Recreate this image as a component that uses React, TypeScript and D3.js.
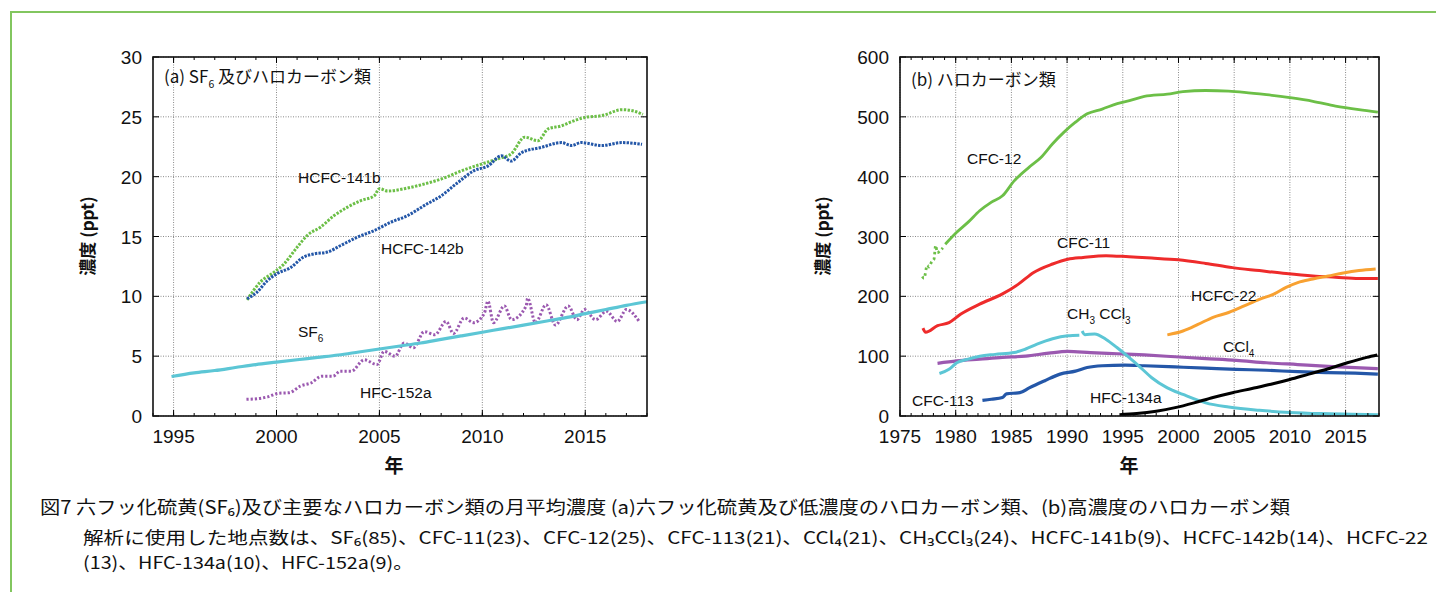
import React from "react";
import * as d3 from "d3";

type Pt = [number, number];

// ---------- Panel (a) data ----------
const xTicksA = [1995, 2000, 2005, 2010, 2015];
const yTicksA = [0, 5, 10, 15, 20, 25, 30];

const sf6A: Pt[] = [
  [1994.9, 3.3], [1996, 3.6], [1997, 3.8], [1998, 4.05], [1999, 4.3], [2000, 4.5],
  [2001, 4.7], [2002, 4.9], [2003, 5.1], [2004, 5.35], [2005, 5.6], [2006, 5.85],
  [2007, 6.1], [2008, 6.4], [2009, 6.7], [2010, 7.0], [2011, 7.3], [2012, 7.6],
  [2013, 7.9], [2014, 8.2], [2015, 8.55], [2016, 8.9], [2017, 9.25], [2018, 9.55],
];

const hcfc141b: Pt[] = [
  [1998.57, 9.7], [1999.22, 11.2], [1999.87, 12.0], [2000.36, 12.7], [2001.0, 14.1],
  [2001.5, 15.1], [2002.15, 15.8], [2002.8, 16.75], [2003.45, 17.45], [2004.1, 18.0],
  [2004.75, 18.4], [2005.0, 19.0], [2005.4, 18.8], [2006.37, 19.05], [2007.2, 19.4],
  [2008.0, 19.8], [2009.0, 20.5], [2009.95, 21.05], [2010.77, 21.5], [2011.4, 21.9],
  [2012.06, 23.3], [2012.7, 23.0], [2013.2, 24.0], [2013.85, 24.25], [2014.34, 24.6],
  [2014.99, 24.95], [2015.8, 25.1], [2016.8, 25.6], [2017.43, 25.45], [2017.8, 25.2],
];

const hcfc142b: Pt[] = [
  [1998.57, 9.8], [1999.06, 10.36], [1999.55, 11.3], [2000.03, 11.9], [2000.68, 12.4],
  [2001.33, 13.3], [2001.82, 13.55], [2002.47, 13.7], [2003.12, 14.25], [2003.94, 14.95],
  [2004.75, 15.5], [2005.56, 16.2], [2006.37, 16.75], [2007.19, 17.6], [2008.0, 18.4],
  [2008.8, 19.5], [2009.6, 20.5], [2010.28, 20.9], [2010.93, 21.75], [2011.4, 21.3],
  [2011.9, 22.0], [2012.88, 22.45], [2013.85, 22.85], [2014.34, 22.6], [2014.8, 22.85],
  [2015.8, 22.6], [2016.78, 22.85], [2017.76, 22.7],
];

const hfc152a: Pt[] = [
  [1998.54, 1.39], [1999.04, 1.44], [1999.57, 1.6], [2000.1, 1.9], [2000.63, 1.95],
  [2001.16, 2.5], [2001.7, 2.78], [2002.2, 3.33], [2002.75, 3.33], [2003.1, 3.75],
  [2003.64, 3.75], [2004.26, 4.7], [2004.88, 4.3], [2005.23, 5.4], [2005.76, 5.0],
  [2006.2, 6.1], [2006.65, 5.7], [2007.18, 7.05], [2007.7, 6.8], [2008.24, 7.9],
  [2008.6, 6.9], [2009.12, 8.2], [2009.57, 7.8], [2010.1, 8.6], [2010.27, 9.6],
  [2010.54, 7.8], [2011.07, 9.2], [2011.42, 8.05], [2012.13, 9.2], [2012.2, 9.85],
  [2012.58, 7.8], [2013.1, 9.3], [2013.55, 7.6], [2014.17, 9.2], [2014.6, 8.05],
  [2014.96, 8.9], [2015.5, 8.05], [2016.03, 8.75], [2016.56, 7.9], [2017.0, 8.9],
  [2017.62, 7.9],
];

// ---------- Panel (b) data ----------
const xTicksB = [1975, 1980, 1985, 1990, 1995, 2000, 2005, 2010, 2015];
const yTicksB = [0, 100, 200, 300, 400, 500, 600];

const cfc12Early: Pt[] = [
  [1977.0, 233], [1977.15, 230], [1977.45, 252], [1977.6, 249], [1977.85, 258],
  [1978.05, 262], [1978.2, 285], [1978.35, 273], [1978.6, 276], [1978.85, 281],
];

const cfc12: Pt[] = [
  [1979.06, 287], [1980.09, 307],
  [1981.12, 324], [1982.15, 343], [1983.18, 357], [1984.2, 368], [1985.25, 393],
  [1986.6, 416], [1987.65, 432], [1988.7, 455], [1989.7, 474], [1990.75, 491],
  [1991.8, 505], [1993.15, 513], [1994.5, 522], [1995.6, 527], [1996.94, 534],
  [1999.0, 538], [2000.4, 542], [2002.44, 544], [2004.5, 543], [2005.9, 541],
  [2007.9, 537], [2010.0, 532], [2012.07, 526], [2014.1, 518], [2016.2, 512], [2017.9, 508],
];

const cfc11: Pt[] = [
  [1977.06, 147], [1977.3, 140], [1978.37, 151], [1979.4, 156], [1980.43, 170],
  [1982.15, 187], [1984.2, 204], [1985.6, 220], [1987.0, 240], [1988.7, 254],
  [1990.06, 262], [1991.44, 265], [1993.5, 268], [1995.56, 266], [1997.6, 264],
  [2000.0, 261], [2002.44, 255], [2004.85, 248], [2007.26, 243], [2009.66, 238],
  [2012.07, 234], [2014.1, 232], [2016.2, 230], [2017.9, 230],
];

const hcfc22: Pt[] = [
  [1999.0, 135.6], [2000.4, 142], [2001.75, 153], [2003.1, 165], [2004.5, 173],
  [2005.9, 184], [2007.26, 195], [2008.6, 204], [2009.66, 215], [2010.7, 223],
  [2012.07, 229], [2013.45, 234], [2014.8, 239], [2016.2, 243], [2017.7, 245.5],
];

const ch3ccl3A: Pt[] = [
  [1978.54, 71], [1979.4, 78], [1980.1, 89], [1981.12, 95], [1982.15, 100],
  [1983.53, 103], [1985.25, 106], [1986.28, 112], [1987.3, 120], [1988.7, 129],
  [1990.06, 134], [1991.1, 135],
];
const ch3ccl3B: Pt[] = [
  [1991.35, 142], [1991.6, 136], [1992.47, 137], [1993.5, 128],
  [1994.5, 114], [1995.56, 98], [1996.6, 81], [1997.6, 64], [1999.0, 47],
  [2000.4, 36], [2002.44, 22], [2004.5, 15], [2007.26, 9.5], [2010.0, 6],
  [2012.76, 4], [2015.5, 3], [2017.9, 2.2],
];

const ccl4: Pt[] = [
  [1978.37, 88], [1980.1, 92], [1982.15, 95], [1984.2, 98], [1986.28, 100],
  [1988.35, 105], [1990.06, 108], [1992.1, 106], [1994.5, 104], [1996.94, 102],
  [1999.7, 99], [2002.44, 96], [2005.2, 93], [2007.9, 89], [2010.7, 86],
  [2013.45, 83], [2015.86, 81], [2017.9, 79],
];

const cfc113: Pt[] = [
  [1982.4, 26], [1983.2, 28], [1984.2, 31], [1984.56, 37], [1985.76, 39],
  [1986.6, 47], [1988.0, 59], [1989.37, 70], [1990.75, 75], [1991.8, 81],
  [1993.15, 84], [1995.2, 85], [1996.94, 84], [1999.7, 82], [2002.44, 80],
  [2005.2, 78], [2007.9, 76.5], [2010.7, 74], [2013.45, 72.5], [2015.86, 71.5], [2017.9, 70],
];

const hfc134a: Pt[] = [
  [1994.7, 2], [1996.25, 4], [1998.0, 8], [1999.7, 14], [2001.4, 22], [2003.1, 31],
  [2004.85, 39], [2006.6, 46], [2008.3, 53], [2010.0, 61], [2011.7, 70],
  [2013.45, 79], [2015.16, 89], [2016.9, 98], [2017.85, 102],
];

// ---------- caption ----------
const captionLines = [
  "図7 六フッ化硫黄(SF₆)及び主要なハロカーボン類の月平均濃度 (a)六フッ化硫黄及び低濃度のハロカーボン類、(b)高濃度のハロカーボン類",
  "解析に使用した地点数は、SF₆(85)、CFC-11(23)、CFC-12(25)、CFC-113(21)、CCl₄(21)、CH₃CCl₃(24)、HCFC-141b(9)、HCFC-142b(14)、HCFC-22",
  "(13)、HFC-134a(10)、HFC-152a(9)。",
];

// ---------- styling ----------
const C = {
  green: "#6cbf47",
  blue: "#2457a8",
  cyan: "#5cc6d5",
  purple: "#9b59b0",
  red: "#ee2b2b",
  orange: "#f8a131",
  black: "#000000",
};

const NUM_FONT = "'Liberation Sans', Arial, Helvetica, sans-serif";
const JP_FONT = "'Noto Sans CJK JP', 'Noto Sans', sans-serif";

type PanelProps = {
  x: d3.ScaleLinear<number, number>;
  y: d3.ScaleLinear<number, number>;
  xTicks: number[];
  yTicks: number[];
  minorFrom: number;
  minorTo: number;
  children?: React.ReactNode;
  clipId: string;
};

function Panel({ x, y, xTicks, yTicks, minorFrom, minorTo, children, clipId }: PanelProps) {
  const [x0, x1] = x.range();
  const [yb, yt] = y.range();
  const minor = d3.range(minorFrom, minorTo + 1);
  return (
    <g>
      <defs>
        <clipPath id={clipId}>
          <rect x={x0} y={yt} width={x1 - x0} height={yb - yt} />
        </clipPath>
      </defs>
      {xTicks.map((t) => (
        <line key={"gx" + t} x1={x(t)} x2={x(t)} y1={yt} y2={yb} stroke="#8a8a8a" strokeWidth={1} strokeDasharray="1 1.5" />
      ))}
      {yTicks.map((t) => (
        <line key={"gy" + t} x1={x0} x2={x1} y1={y(t)} y2={y(t)} stroke="#8a8a8a" strokeWidth={1} strokeDasharray="1 1.5" />
      ))}
      <g clipPath={`url(#${clipId})`}>{children}</g>
      {minor.map((t) => (
        <g key={"mt" + t}>
          <line x1={x(t)} x2={x(t)} y1={yb} y2={yb - 3} stroke="#000" strokeWidth={1} />
          <line x1={x(t)} x2={x(t)} y1={yt} y2={yt + 3} stroke="#000" strokeWidth={1} />
        </g>
      ))}
      {xTicks.map((t) => (
        <g key={"xt" + t}>
          <line x1={x(t)} x2={x(t)} y1={yb} y2={yb - 6} stroke="#000" strokeWidth={1} />
          <line x1={x(t)} x2={x(t)} y1={yt} y2={yt + 6} stroke="#000" strokeWidth={1} />
          <text x={x(t)} y={yb + 27} textAnchor="middle" fontFamily={NUM_FONT} fontSize={19} fill="#111">
            {t}
          </text>
        </g>
      ))}
      {yTicks.map((t) => (
        <g key={"yt" + t}>
          <line x1={x0} x2={x0 + 6} y1={y(t)} y2={y(t)} stroke="#000" strokeWidth={1} />
          <line x1={x1} x2={x1 - 6} y1={y(t)} y2={y(t)} stroke="#000" strokeWidth={1} />
          <text x={x0 - 11} y={y(t) + 7} textAnchor="end" fontFamily={NUM_FONT} fontSize={19} fill="#111">
            {t}
          </text>
        </g>
      ))}
      <rect x={x0} y={yt} width={x1 - x0} height={yb - yt} fill="none" stroke="#111" strokeWidth={1.6} />
    </g>
  );
}

export default function App() {
  const xA = d3.scaleLinear().domain([1994, 2018]).range([153, 647]);
  const yA = d3.scaleLinear().domain([0, 30]).range([416, 57]);
  const xB = d3.scaleLinear().domain([1975, 2018]).range([900, 1379]);
  const yB = d3.scaleLinear().domain([0, 600]).range([416, 57]);

  const lineA = d3.line<Pt>().x((d) => xA(d[0])).y((d) => yA(d[1])).curve(d3.curveMonotoneX);
  const lineB = d3.line<Pt>().x((d) => xB(d[0])).y((d) => yB(d[1])).curve(d3.curveMonotoneX);

  const labelStyle = { fontFamily: NUM_FONT, fontSize: 15.5, fill: "#111" } as const;

  return (
    <div style={{ position: "absolute", left: 0, top: 0, width: 1436, height: 592, background: "#fff" }}>
      <svg width={1436} height={592} xmlns="http://www.w3.org/2000/svg">
        <rect x={0} y={0} width={1436} height={592} fill="#fff" />
        <rect x={11} y={12} width={1460} height={620} fill="none" stroke="#82c65f" strokeWidth={2} />

        {/* ---------- Panel (a) ---------- */}
        <Panel x={xA} y={yA} xTicks={xTicksA} yTicks={yTicksA} minorFrom={1994} minorTo={2018} clipId="clipA">
          <path d={lineA(hfc152a) || ""} fill="none" stroke={C.purple} strokeWidth={3} strokeDasharray="2.2 2" />
          <path d={lineA(sf6A) || ""} fill="none" stroke={C.cyan} strokeWidth={3.2} />
          <path d={lineA(hcfc141b) || ""} fill="none" stroke={C.green} strokeWidth={3} strokeDasharray="2.4 1.4" />
          <path d={lineA(hcfc142b) || ""} fill="none" stroke={C.blue} strokeWidth={3} strokeDasharray="2.4 1.2" />
        </Panel>
        <text x={164} y={83} fontFamily={JP_FONT} fontSize={17} fill="#111">
          (a) SF<tspan dy={5} fontSize={10.5}>6</tspan>
          <tspan dy={-5}>{"  及びハロカーボン類"}</tspan>
        </text>
        <text x={298} y={183} {...labelStyle}>HCFC-141b</text>
        <text x={381} y={254} {...labelStyle}>HCFC-142b</text>
        <text x={298} y={337} {...labelStyle}>
          SF<tspan dy={5} fontSize={10}>6</tspan>
        </text>
        <text x={360} y={398} {...labelStyle}>HFC-152a</text>
        <text
          transform="translate(94,236) rotate(-90)"
          textAnchor="middle"
          fontFamily={JP_FONT}
          fontSize={17}
          fontWeight={700}
          fill="#111"
        >
          濃度 (ppt)
        </text>
        <text x={394} y={473} textAnchor="middle" fontFamily={JP_FONT} fontSize={19} fontWeight={700} fill="#111">
          年
        </text>

        {/* ---------- Panel (b) ---------- */}
        <Panel x={xB} y={yB} xTicks={xTicksB} yTicks={yTicksB} minorFrom={1975} minorTo={2018} clipId="clipB">
          <path d={lineB(cfc12Early) || ""} fill="none" stroke={C.green} strokeWidth={2.8} strokeDasharray="2.5 3" />
          <path d={lineB(cfc12) || ""} fill="none" stroke={C.green} strokeWidth={2.8} />
          <path d={lineB(cfc11) || ""} fill="none" stroke={C.red} strokeWidth={3} />
          <path d={lineB(hcfc22) || ""} fill="none" stroke={C.orange} strokeWidth={3} />
          <path d={lineB(ccl4) || ""} fill="none" stroke={C.purple} strokeWidth={3.2} />
          <path d={lineB(cfc113) || ""} fill="none" stroke={C.blue} strokeWidth={3.2} />
          <path d={lineB(ch3ccl3A) || ""} fill="none" stroke={C.cyan} strokeWidth={3} />
          <path d={lineB(ch3ccl3B) || ""} fill="none" stroke={C.cyan} strokeWidth={3} />
          <path d={lineB(hfc134a) || ""} fill="none" stroke={C.black} strokeWidth={3} />
        </Panel>
        <text x={911} y={86} fontFamily={JP_FONT} fontSize={17} fill="#111">
          (b) ハロカーボン類
        </text>
        <text x={967} y={164} {...labelStyle}>CFC-12</text>
        <text x={1057} y={248} {...labelStyle}>CFC-11</text>
        <text x={1191} y={301} {...labelStyle}>HCFC-22</text>
        <text x={1067} y={319} {...labelStyle}>
          CH<tspan dy={5} fontSize={10}>3</tspan>
          <tspan dy={-5}> CCl</tspan>
          <tspan dy={5} fontSize={10}>3</tspan>
        </text>
        <text x={1223} y={352} {...labelStyle}>
          CCl<tspan dy={5} fontSize={10}>4</tspan>
        </text>
        <text x={912} y={406} {...labelStyle}>CFC-113</text>
        <text x={1090} y={403} {...labelStyle}>HFC-134a</text>
        <text
          transform="translate(829,236) rotate(-90)"
          textAnchor="middle"
          fontFamily={JP_FONT}
          fontSize={17}
          fontWeight={700}
          fill="#111"
        >
          濃度 (ppt)
        </text>
        <text x={1129} y={473} textAnchor="middle" fontFamily={JP_FONT} fontSize={19} fontWeight={700} fill="#111">
          年
        </text>

        {/* ---------- caption ---------- */}
        <text x={40} y={514} fontFamily={JP_FONT} fontSize={18} fill="#111" textLength={1250} lengthAdjust="spacingAndGlyphs">
          {captionLines[0]}
        </text>
        <text x={83} y={544} fontFamily={JP_FONT} fontSize={17} fill="#111" textLength={1345} lengthAdjust="spacingAndGlyphs">
          {captionLines[1]}
        </text>
        <text x={83} y={569} fontFamily={JP_FONT} fontSize={17} fill="#111" textLength={330} lengthAdjust="spacingAndGlyphs">
          {captionLines[2]}
        </text>
      </svg>
    </div>
  );
}
